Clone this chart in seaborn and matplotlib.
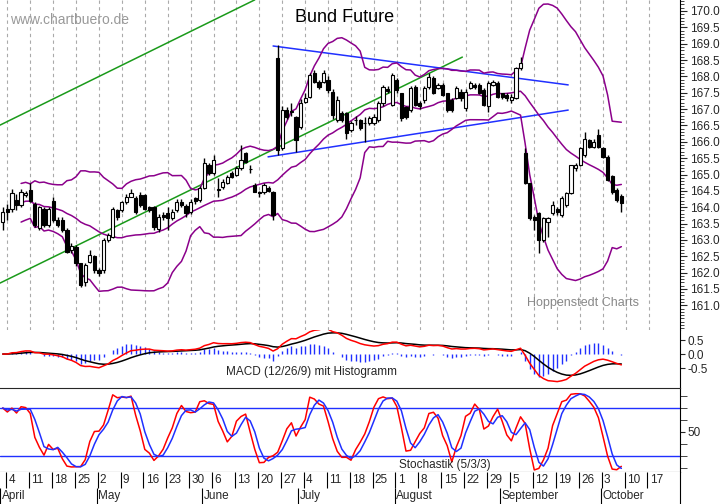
import numpy as np
import pandas as pd
import matplotlib
matplotlib.use("Agg")
import matplotlib.pyplot as plt
import seaborn as sns

sns.set_style("white")
plt.rcParams['font.family'] = ['Liberation Sans', 'DejaVu Sans']

# ---------------- data ----------------
opens = [163.56,163.96,163.95,164.22,164.07,164.36,164.53,164.1,163.35,163.93,163.45,164.2,163.6,163.6,163.3,162.7,162.79,162.28,161.72,162.33,162.5,162.08,162.08,163.0,163.1,163.9,163.9,164.17,164.32,164.27,164.37,164.37,164.0,164.0,163.32,163.76,163.81,163.66,163.91,164.17,164.04,163.86,164.27,164.22,164.58,165.29,165.04,164.53,164.63,164.75,165.06,164.98,165.19,165.65,165.16,164.68,164.47,164.47,164.6,164.47,
         168.55,165.8,166.97,166.9,166.77,166.46,167.23,167.38,168.1,167.84,167.84,167.9,167.53,166.67,166.87,166.87,166.36,166.67,166.67,166.56,166.56,166.56,166.67,167.18,167.6,167.13,167.9,167.48,167.07,166.97,167.69,167.18,167.28,167.69,167.94,167.64,167.74,167.48,167.28,167.33,167.53,167.02,167.64,167.74,167.74,167.58,167.08,167.74,167.79,167.48,167.43,167.28,167.33,168.25,
         165.65,164.73,163.7,163.81,163.0,163.56,163.81,163.94,163.76,164.07,164.42,165.19,165.29,165.6,166.05,165.85,166.2,165.8,165.55,164.95,164.53,164.34]
closes = [163.86,163.86,164.42,164.07,164.47,164.42,164.2,163.45,164.0,163.45,163.93,163.6,163.45,163.3,162.64,162.8,162.28,161.62,162.23,162.54,162.08,162.0,163.0,163.15,163.93,163.7,164.17,164.32,164.42,163.86,164.07,163.96,163.9,163.4,163.71,163.69,163.66,163.86,164.17,164.07,163.81,164.17,164.2,164.58,165.34,165.04,165.44,164.55,164.78,164.93,164.93,165.19,165.44,165.39,165.16,164.47,164.42,164.68,164.5,163.76,
          165.75,166.97,166.77,166.95,166.05,167.18,167.33,168.04,167.84,167.69,168.1,167.58,166.82,167.28,166.67,166.26,166.57,166.67,166.41,166.56,166.72,166.77,167.18,167.69,167.55,168.04,167.58,166.72,166.77,167.64,167.13,167.08,167.64,167.99,167.48,167.74,167.43,166.97,166.97,167.64,167.33,167.53,167.79,167.69,167.48,167.13,167.79,167.84,167.38,167.38,167.33,167.38,168.25,168.4,
          164.73,163.66,163.6,163.0,163.66,163.66,164.07,163.84,164.27,164.42,165.29,165.29,165.8,166.1,165.85,166.0,165.85,165.55,164.83,164.47,164.22,164.14]
highs = [164.0,164.1,164.55,164.4,164.55,164.5,164.73,164.15,164.05,164.0,164.0,164.3,163.7,163.7,163.35,162.9,162.85,162.3,162.3,162.7,162.55,162.15,163.05,163.2,164.0,163.95,164.2,164.4,164.55,164.35,164.45,164.4,164.05,164.05,163.8,163.85,164.0,163.95,164.25,164.25,164.1,164.25,164.3,164.65,165.5,165.35,165.6,164.9,164.85,165.0,165.1,165.25,165.9,165.7,165.3,164.75,164.5,164.75,164.65,164.5,
         168.96,167.1,167.05,167.2,166.8,167.3,167.5,168.1,168.2,167.9,168.2,168.0,167.6,167.4,166.95,166.9,166.65,166.8,166.7,166.75,166.8,166.85,167.25,167.75,167.7,168.1,167.95,167.5,167.1,167.7,167.75,167.25,167.7,168.1,168.0,167.8,167.8,167.5,167.35,167.7,167.6,167.6,167.85,167.8,167.8,167.65,167.85,167.9,167.85,167.5,167.5,167.45,168.3,168.6,
         165.8,164.75,163.75,163.85,163.7,163.7,164.2,164.0,164.35,164.45,165.3,165.35,165.85,166.3,166.1,166.1,166.4,165.85,165.6,165.0,164.6,164.4]
lows = [163.3,163.6,163.85,163.9,164.0,164.3,164.15,163.4,163.3,163.4,163.4,163.55,163.4,163.25,162.6,162.6,162.2,161.55,161.6,162.3,162.0,161.9,162.0,162.95,163.05,163.6,163.85,164.1,164.3,163.8,164.0,163.9,163.85,163.3,163.25,163.6,163.3,163.6,163.85,164.0,163.7,163.8,164.1,164.15,164.55,165.0,165.0,164.3,164.55,164.7,164.9,164.95,165.15,165.35,165.05,164.45,164.3,164.4,164.45,163.6,
        165.6,165.75,166.7,166.8,165.7,166.4,167.2,167.35,167.8,167.6,167.8,167.5,166.7,166.6,166.6,166.1,166.3,166.5,166.35,166.0,166.5,166.5,166.6,167.1,167.5,167.1,167.5,166.65,166.7,166.9,167.1,167.0,167.2,167.6,167.45,167.6,167.4,166.9,166.9,167.3,167.25,166.95,167.6,167.6,167.45,167.1,166.9,167.7,167.35,167.3,167.25,167.2,167.3,168.2,
        164.7,163.6,163.3,162.6,162.95,163.1,163.75,163.75,163.7,164.0,164.4,165.1,165.25,165.55,165.8,165.8,165.8,165.5,164.8,164.4,164.15,163.85]
first_day = -1  # Fri 1 April

mondays = ["4","11","18","25","2","9","16","23","30","6","13","20","27","4","11","18","25","1","8","15","22","29","5","12","19","26","3","10","17"]
months = ["April","May","June","July","August","September","October"]
month_start = [-1, 20, 43, 64, 85, 108, 130]

green_lo_x, green_lo_y = [-1.6, 99.3], [161.68, 168.59]
green_hi_x, green_hi_y = [-1.6, 54.0], [166.51, 170.34]
blue_hi_x, blue_hi_y = [58.0, 122.4], [168.93, 167.74]
blue_lo_x, blue_lo_y = [56.9, 122.4], [165.54, 166.97]

# ---------------- indicators ----------------
m = min(len(opens), len(closes), len(highs), len(lows))
days = np.arange(first_day, first_day + m)
df = pd.DataFrame({"d": days, "o": opens[:m], "c": closes[:m], "h": highs[:m], "l": lows[:m]})
df["h"] = df[["h", "o", "c"]].max(axis=1)
df["l"] = df[["l", "o", "c"]].min(axis=1)
ma = df.c.rolling(20, min_periods=5).mean()
sd = df.c.rolling(20, min_periods=5).std()
df["mid"], df["up"], df["dn"] = ma, ma + 2 * sd, ma - 2 * sd
e12 = df.c.ewm(span=12, adjust=False).mean()
e26 = df.c.ewm(span=26, adjust=False).mean()
df["macd"] = e12 - e26
df["sig"] = df["macd"].ewm(span=9, adjust=False).mean()
df["hst"] = df["macd"] - df["sig"]
ll = df.l.rolling(5, min_periods=1).min()
hh = df.h.rolling(5, min_periods=1).max()
rk = 100 * (df.c - ll) / (hh - ll)
df["k"] = rk.rolling(3, min_periods=1).mean()
df["dd"] = df["k"].rolling(3, min_periods=1).mean()

# ---------------- layout ----------------
W, H = 723, 504
fig = plt.figure(figsize=(7.23, 5.04), dpi=100)
R = 680 / W
def frac(top, bot):
    return [0, (H - bot) / H, R, (bot - top) / H]
ax = fig.add_axes(frac(0, 330))
axm = fig.add_axes(frac(330, 388))
axs = fig.add_axes(frac(388, 472))
axd = fig.add_axes(frac(472, 504))
XL = (-1.6, 146.8)
purple = "#8b008b"

for a in (ax, axm, axs, axd):
    a.set_xlim(*XL)
    a.set_xticks([])
    for s in ("left", "top", "bottom"):
        a.spines[s].set_visible(False)
    a.spines["right"].set_color("black")
    a.yaxis.tick_right()
    a.tick_params(axis="y", pad=2)

# main panel
ax.set_ylim(160.245, 170.336)
for k in range(len(mondays)):
    ax.axvline(k * 5, color="#aaaaaa", ls=(0, (3, 3)), lw=0.8, zorder=0)
for xs, ys, col in [(green_lo_x, green_lo_y, "#1a9a1a"), (green_hi_x, green_hi_y, "#1a9a1a"),
                    (blue_hi_x, blue_hi_y, "#2030ff"), (blue_lo_x, blue_lo_y, "#2030ff")]:
    ax.plot(xs, ys, color=col, lw=1.1, zorder=2)
for col in ("up", "mid", "dn"):
    sns.lineplot(x=df["d"], y=df[col], ax=ax, color=purple, lw=1.1, zorder=3)
ax.vlines(df["d"], df["l"], df["h"], color="black", lw=1, zorder=4)
upm = df.c >= df.o
ax.bar(df.d[upm], (df.c - df.o)[upm], bottom=df.o[upm], width=0.7, color="white", edgecolor="black", lw=0.8, zorder=5)
ax.bar(df.d[~upm], (df.o - df.c)[~upm], bottom=df.c[~upm], width=0.7, color="black", edgecolor="black", lw=0.8, zorder=5)
ax.set_yticks(np.arange(161, 170.01, 0.5))
ax.set_yticks(np.arange(160.3, 170.31, 0.1), minor=True)
ax.set_yticklabels([f"{v:.1f}" for v in np.arange(161, 170.01, 0.5)], fontsize=8.5)
ax.tick_params(axis="y", which="major", length=5, direction="out")
ax.tick_params(axis="y", which="minor", length=3, direction="out")
ax.set_xlabel(""); ax.set_ylabel("")
fig.text(10 / W, 1 - 20 / H, "www.chartbuero.de", fontsize=10, color="#999999", va="center", ha="left")
fig.text(345 / W, 1 - 18 / H, "Bund Future", fontsize=13, color="black", ha="center", va="center")
fig.text(583 / W, 1 - 303 / H, "Hoppenstedt Charts", fontsize=9, color="#888888", ha="center", va="center")

# MACD
axm.set_ylim(-1.21, 0.857)
axm.vlines(df["d"], 0, df["hst"] * 1.5, color="#2030ff", lw=1)
sns.lineplot(x=df["d"], y=df["sig"], ax=axm, color="black", lw=1.1)
sns.lineplot(x=df["d"], y=df["macd"], ax=axm, color="red", lw=1.1)
axm.set_yticks([0.5, 0.0, -0.5])
axm.set_yticklabels(["0.5", "0.0", "-0.5"], fontsize=8.5)
axm.set_xlabel(""); axm.set_ylabel("")
fig.text(312 / W, 1 - 372 / H, "MACD (12/26/9) mit Histogramm", fontsize=8.5, ha="center", va="center")

# Stochastics
axs.set_ylim(0, 105)
axs.spines["top"].set_visible(True)
axs.spines["bottom"].set_visible(True)
axs.axhline(80, color="#2030ff", lw=1)
axs.axhline(20, color="#2030ff", lw=1)
sns.lineplot(x=df["d"], y=df["k"], ax=axs, color="red", lw=1.1)
sns.lineplot(x=df["d"], y=df["dd"], ax=axs, color="#2030ff", lw=1.1)
axs.set_yticks([50]); axs.set_yticklabels(["50"], fontsize=8.5)
axs.set_yticks([5, 20, 35, 65, 80, 95], minor=True)
axs.tick_params(axis="y", which="minor", length=5)
axs.set_xlabel(""); axs.set_ylabel("")
fig.text(445 / W, 1 - 465 / H, "Stochastik (5/3/3)", fontsize=8.5, ha="center", va="center")

# date axis
axd.set_ylim(0, 1)
axd.set_yticks([])
for k, lab in enumerate(mondays):
    axd.vlines(k * 5 - 0.3, 0.5, 1, color="black", lw=0.8)
    axd.text(k * 5 + 0.2, 0.75, lab, fontsize=8.5, va="center", ha="left")
for ms, lab in zip(month_start, months):
    axd.vlines(ms - 0.5, 0, 0.5, color="black", lw=0.8)
    axd.text(ms - 0.2, 0.25, lab, fontsize=8.5, va="center", ha="left")

fig.savefig("out.png", dpi=100)
